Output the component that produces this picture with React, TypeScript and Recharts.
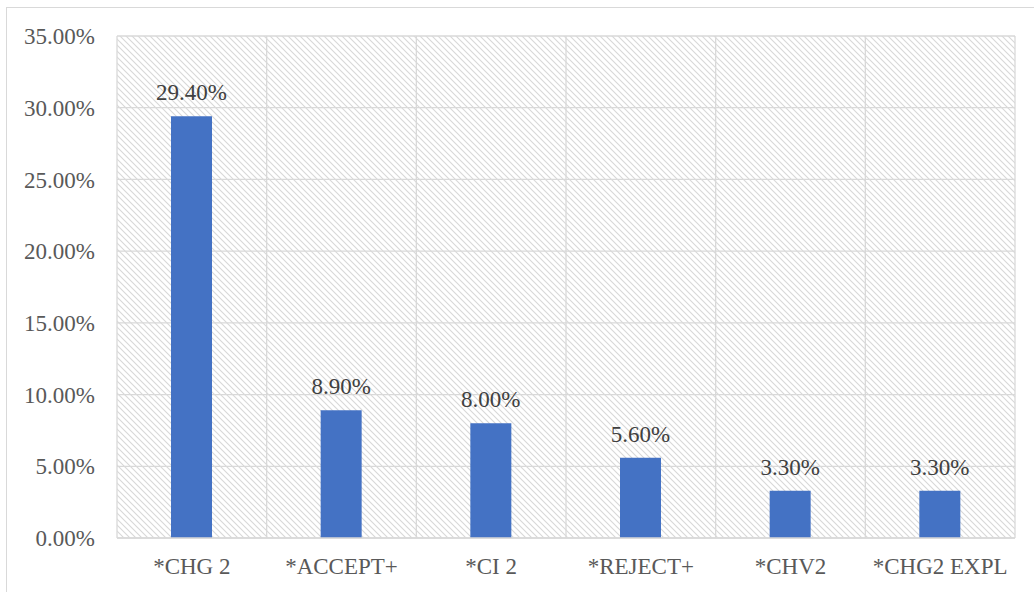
import React from 'react';
import { BarChart, Bar, XAxis, YAxis, CartesianGrid, LabelList } from 'recharts';

// Share of each response code
const categories = ['*CHG 2', '*ACCEPT+', '*CI 2', '*REJECT+', '*CHV2', '*CHG2 EXPL'];
const shares = [29.4, 8.9, 8.0, 5.6, 3.3, 3.3];
const yTicks = [0, 5, 10, 15, 20, 25, 30, 35];

const data = categories.map((name, i) => ({ name, value: shares[i] }));

const FONT = '"Liberation Serif", "Times New Roman", serif';
const GRID = '#d9d9d9';

const pct = (v: number) => `${v.toFixed(2)}%`;

const YTick = (props: any) => {
  const { x, y, payload } = props;
  return (
    <text x={x} y={y} dy="0.355em" textAnchor="end" fill="#595959" fontSize={23} fontFamily={FONT}>
      {pct(Number(payload.value))}
    </text>
  );
};

const XTick = (props: any) => {
  const { x, y, payload } = props;
  return (
    <text x={x} y={y} dy="0.71em" textAnchor="middle" fill="#595959" fontSize={23} fontFamily={FONT}>
      {payload.value}
    </text>
  );
};

const ValueLabel = (props: any) => {
  const { x, y, width, value } = props;
  return (
    <text
      x={Number(x) + Number(width) / 2}
      y={Number(y) - 16}
      textAnchor="middle"
      fill="#404040"
      fontSize={23}
      fontFamily={FONT}
    >
      {pct(Number(value))}
    </text>
  );
};

export default function App() {
  return (
    <div
      style={{
        position: 'absolute',
        left: 0,
        top: 0,
        width: 1034,
        height: 592,
        overflow: 'hidden',
        background: '#ffffff',
        fontFamily: FONT,
      }}
    >
      <div
        style={{
          position: 'absolute',
          left: 6,
          top: 7,
          width: 1100,
          height: 700,
          border: `1px solid ${GRID}`,
          boxSizing: 'border-box',
        }}
      />
      <div style={{ position: 'absolute', left: 0, top: 0 }}>
        <BarChart
          width={1034}
          height={592}
          data={data}
          margin={{ top: 36, right: 19, bottom: 24, left: 0 }}
          barCategoryGap={0}
          style={{ fontFamily: FONT }}
        >
          <defs>
            <pattern id="diagHatch" patternUnits="userSpaceOnUse" width={6} height={6}>
              <rect x={0} y={0} width={6} height={6} fill="#ffffff" />
              <path d="M-1,-1 L7,7 M-1,5 L1,7 M5,-1 L7,1" stroke="#d8d8d8" strokeWidth={1.1} />
            </pattern>
          </defs>
          <CartesianGrid
            fill="url(#diagHatch)"
            fillOpacity={1}
            stroke={GRID}
            strokeWidth={1.3}
            verticalCoordinatesGenerator={({ offset }: any) => {
              const n = categories.length;
              return Array.from({ length: n + 1 }, (_, i) => offset.left + (i * offset.width) / n);
            }}
          />
          <XAxis
            dataKey="name"
            height={30}
            axisLine={{ stroke: GRID, strokeWidth: 1.5 }}
            tickLine={false}
            tickSize={0}
            tickMargin={20}
            interval={0}
            tick={<XTick />}
          />
          <YAxis
            width={117}
            domain={[0, 35]}
            ticks={yTicks}
            interval={0}
            axisLine={false}
            tickLine={false}
            tickSize={0}
            tickMargin={22}
            tick={<YTick />}
          />
          <Bar dataKey="value" fill="#4472c4" barSize={41} isAnimationActive={false}>
            <LabelList dataKey="value" content={<ValueLabel />} />
          </Bar>
        </BarChart>
      </div>
    </div>
  );
}
